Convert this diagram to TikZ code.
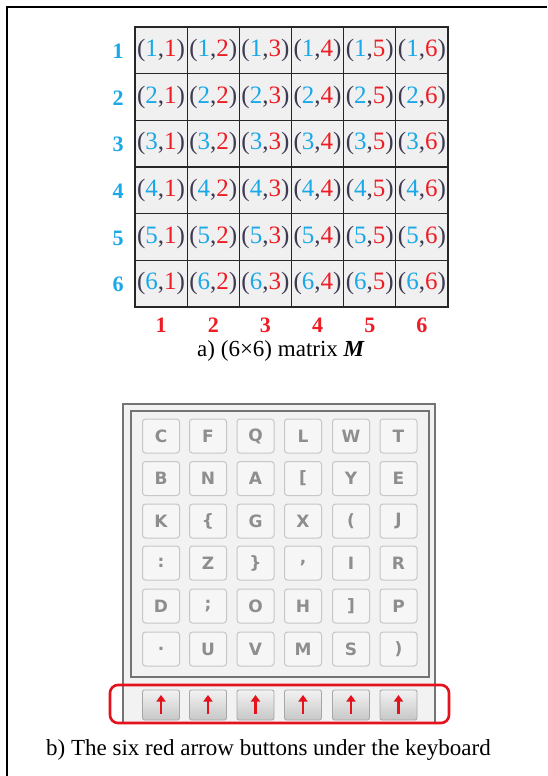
\documentclass[tikz,border=0pt]{standalone}
\usepackage{fontspec}
\setmainfont{Liberation Serif}
\setsansfont{Liberation Sans}
\newfontfamily\keyfont{DejaVu Sans}
\usetikzlibrary{arrows.meta}
\definecolor{numblue}{HTML}{1AA8E8}
\definecolor{numred}{HTML}{EE1C24}
\definecolor{parcol}{HTML}{3E3A52}
\definecolor{cellgray}{HTML}{F0F0F0}
\definecolor{keyedge}{HTML}{C6C6C6}
\definecolor{keyfill}{HTML}{F6F6F6}
\definecolor{keytext}{HTML}{8E8E8E}
\definecolor{kbframe}{HTML}{747474}
\definecolor{kbback}{HTML}{F2F2F2}
\definecolor{boxred}{HTML}{E3121C}
\tikzset{
  cell/.style={draw=black!85, line width=1.1pt, fill=cellgray, minimum width=52.17pt, minimum height=46.67pt, inner sep=0pt, text=parcol, font=\fontsize{25}{25}\selectfont},
  rowlab/.style={text=numblue, font=\bfseries\fontsize{22}{22}\selectfont, inner sep=0pt, anchor=base},
  collab/.style={text=numred, font=\bfseries\fontsize{22}{22}\selectfont, inner sep=0pt, anchor=base},
  caption/.style={font=\fontsize{23}{23}\selectfont, inner sep=0pt, anchor=base},
  keycap/.style={draw=keyedge, line width=1pt, fill=keyfill, rounded corners=3pt, minimum width=37pt, minimum height=34pt, inner sep=0pt, text=keytext, font=\keyfont\bfseries\fontsize{17}{17}\selectfont},
  arrowbtn/.style={draw=black!35, line width=0.8pt, top color=white!95!black, bottom color=black!22, rounded corners=2pt, minimum width=37pt, minimum height=30pt, inner sep=0pt,
    path picture={\draw[boxred, line width=2.3pt, -{Triangle[width=9pt,length=6.5pt]}] ([yshift=-9pt]path picture bounding box.center) -- ([yshift=10pt]path picture bounding box.center);}}
}
\begin{document}
\begin{tikzpicture}[x=1pt,y=-1pt]
\useasboundingbox (0,0) rectangle (547,776);
\fill[white] (0,0) rectangle (547,776);
% outer frame (left and top)
\draw[line width=1.6pt, black] (7,776) -- (7,7) -- (547,7);
% matrix
\foreach \r in {1,...,6}{
  \foreach \c in {1,...,6}{
    \node[cell] (c-\r-\c) at ({135+(\c-0.5)*52.17},{27+(\r-0.5)*46.67}) {(\textcolor{numblue}{\r},\textcolor{numred}{\c})};
  }
  \node[rowlab] (r-\r) at (118,{27+(\r-0.5)*46.67+8}) {\r};
  \node[collab] (k-\r) at ({135+(\r-0.5)*52.17},332) {\r};
}
\node[caption] (capa) at (281,356) {a) (6×6) matrix \textbf{\textit{M}}};
% keyboard frame
\filldraw[draw=kbframe, fill=kbback, line width=2.6pt] (123,404) rectangle (435,723);
\filldraw[draw=kbframe, fill=kbback, line width=2pt] (131,411) rectangle (429,677);
% keys
\node[keycap] (k11) at (161,436) {C};
\node[keycap] (k12) at (208,436) {F};
\node[keycap] (k13) at (255.5,436) {Q};
\node[keycap] (k14) at (303,436) {L};
\node[keycap] (k15) at (351,436) {W};
\node[keycap] (k16) at (398.5,436) {T};
\node[keycap] (k21) at (161,478.5) {B};
\node[keycap] (k22) at (208,478.5) {N};
\node[keycap] (k23) at (255.5,478.5) {A};
\node[keycap] (k24) at (303,478.5) {[};
\node[keycap] (k25) at (351,478.5) {Y};
\node[keycap] (k26) at (398.5,478.5) {E};
\node[keycap] (k31) at (161,521) {K};
\node[keycap] (k32) at (208,521) {\{};
\node[keycap] (k33) at (255.5,521) {G};
\node[keycap] (k34) at (303,521) {X};
\node[keycap] (k35) at (351,521) {(};
\node[keycap] (k36) at (398.5,521) {J};
\node[keycap] (k41) at (161,563) {:};
\node[keycap] (k42) at (208,563) {Z};
\node[keycap] (k43) at (255.5,563) {\}};
\node[keycap] (k44) at (303,563) {,};
\node[keycap] (k45) at (351,563) {I};
\node[keycap] (k46) at (398.5,563) {R};
\node[keycap] (k51) at (161,606) {D};
\node[keycap] (k52) at (208,606) {;};
\node[keycap] (k53) at (255.5,606) {O};
\node[keycap] (k54) at (303,606) {H};
\node[keycap] (k55) at (351,606) {]};
\node[keycap] (k56) at (398.5,606) {P};
\node[keycap] (k61) at (161,649) {.};
\node[keycap] (k62) at (208,649) {U};
\node[keycap] (k63) at (255.5,649) {V};
\node[keycap] (k64) at (303,649) {M};
\node[keycap] (k65) at (351,649) {S};
\node[keycap] (k66) at (398.5,649) {)};
% arrow buttons
\foreach \c/\x in {1/161,2/208,3/255.5,4/303,5/351,6/398.5}{
  \node[arrowbtn] (b-\c) at (\x,705) {};
}
% red highlight box
\draw[boxred, line width=2.6pt, rounded corners=8pt] (110,685) rectangle (449,723);
\node[caption] (capb) at (268.5,755) {b) The six red arrow buttons under the keyboard};
\end{tikzpicture}
\end{document}
